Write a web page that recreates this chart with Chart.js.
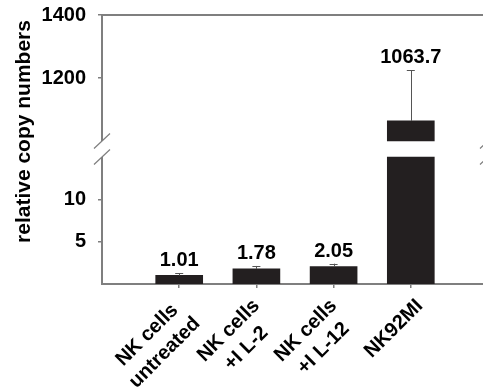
<!DOCTYPE html>
<html><head><meta charset="utf-8">
<script src="https://cdn.jsdelivr.net/npm/chart.js@4/dist/chart.umd.min.js"></script>
<style>
html,body{margin:0;padding:0;overflow:hidden;background:#fff;width:483px;height:389px}
#wrap{position:absolute;left:0;top:0;width:492px;height:389px}
</style>
</head><body><div id="wrap"><canvas id="c" width="492" height="389"></canvas></div>
<script>
// ---- data ----
const categories = [['NK cells','untreated'], ['NK cells','+I L-2'], ['NK cells','+I L-12'], ['NK92MI']];
const values = [1.01, 1.78, 2.05, 1063.7];
const errors = [0.25, 0.35, 0.35, 161];
const valueLabels = ['1.01', '1.78', '2.05', '1063.7'];
const yTickValues = [5, 10, 1200, 1400];
const yTickLabels = ['5', '10', '1200', '1400'];
const yMin = 0, yMax = 1400;
const breakLow = 15, breakHigh = 1000;
const yTitle = 'relative copy numbers';

// ---- styles ----
const FONT = '"Liberation Sans", Arial, sans-serif';
const AXIS = '#7f7f7f';
const BAR = '#231f20';
const ERR = '#555555';

class BrokenLinearScale extends Chart.LinearScale {
  buildTicks() { return yTickValues.map(v => ({ value: v })); }
  _seg() {
    const H = this.bottom - this.top;
    const lowerH = H * this.options.lowerShare;
    const gapH = H * this.options.gapShare;
    return { lowerH, gapH, upperH: H - lowerH - gapH };
  }
  getPixelForValue(v) {
    const { lowerH, gapH, upperH } = this._seg();
    const b = this.options.breakLow, t = this.options.breakHigh;
    if (v <= b) return this.bottom - (v - this.min) / (b - this.min) * lowerH;
    if (v >= t) return this.bottom - lowerH - gapH - (v - t) / (this.max - t) * upperH;
    return this.bottom - lowerH - (v - b) / (t - b) * gapH;
  }
  getValueForPixel(p) {
    const { lowerH, gapH, upperH } = this._seg();
    const b = this.options.breakLow, t = this.options.breakHigh;
    const d = this.bottom - p;
    if (d <= lowerH) return this.min + d / lowerH * (b - this.min);
    if (d >= lowerH + gapH) return t + (d - lowerH - gapH) / upperH * (this.max - t);
    return b + (d - lowerH) / gapH * (t - b);
  }
}
BrokenLinearScale.id = 'brokenLinear';
BrokenLinearScale.defaults = Chart.LinearScale.defaults;
Chart.register(BrokenLinearScale);

const padLabels = ['', ...categories.map(c => c.join(' ')), ''];
const lowerData = [null, ...values.map(v => [yMin, Math.min(v, breakLow)]), null];
const upperData = [null, ...values.map(v => v > breakHigh ? [breakHigh, v] : null), null];

const decorPlugin = {
  id: 'decor',
  afterDatasetsDraw(chart) {
    const { ctx, chartArea: ca } = chart;
    const xs = chart.scales.x, ys = chart.scales.y;
    ctx.save();
    // error bars
    ctx.strokeStyle = ERR; ctx.lineWidth = 1;
    values.forEach((v, i) => {
      const x = xs.getPixelForValue(i + 1);
      const y0 = ys.getPixelForValue(v);
      const y1 = ys.getPixelForValue(v + errors[i]);
      ctx.beginPath();
      ctx.moveTo(Math.round(x) + 0.5, y0); ctx.lineTo(Math.round(x) + 0.5, y1);
      ctx.moveTo(x - 4, Math.round(y1) + 0.5); ctx.lineTo(x + 4, Math.round(y1) + 0.5);
      ctx.stroke();
    });
    // frame: top line, broken left axis, break marks
    const yb = ys.getPixelForValue(breakLow), yt = ys.getPixelForValue(breakHigh);
    ctx.strokeStyle = AXIS; ctx.lineWidth = 2;
    ctx.beginPath();
    ctx.moveTo(ca.left - 1, ca.top); ctx.lineTo(ca.right, ca.top);
    ctx.moveTo(ca.left, ca.top); ctx.lineTo(ca.left, yt);
    ctx.moveTo(ca.left, yb); ctx.lineTo(ca.left, ca.bottom);
    ctx.stroke();
    ctx.lineWidth = 1.2;
    ctx.beginPath();
    [ca.left, ca.right].forEach(x => {
      [yt, yb].forEach(y => {
        ctx.moveTo(x - 8, y + 7.5); ctx.lineTo(x + 8, y - 7.5);
      });
    });
    ctx.stroke();
    // value labels
    ctx.fillStyle = '#000';
    ctx.font = 'bold 20px ' + FONT;
    ctx.textAlign = 'center'; ctx.textBaseline = 'alphabetic';
    values.forEach((v, i) => {
      const x = xs.getPixelForValue(i + 1);
      const y1 = ys.getPixelForValue(v + errors[i]);
      ctx.fillText(valueLabels[i], x, y1 - 7);
    });
    // category labels (rotated, centred lines)
    ctx.font = 'bold 20px ' + FONT;
    const lh = 25;
    categories.forEach((lines, i) => {
      const tx = xs.getPixelForValue(i + 1);
      const bh = lines.length * lh;
      const wmax = Math.max(...lines.map(l => ctx.measureText(l).width));
      ctx.save();
      ctx.translate(tx + 9, ca.bottom + 10 + 0.707 * bh / 2);
      ctx.rotate(-Math.PI / 4);
      ctx.textAlign = 'center'; ctx.textBaseline = 'middle';
      lines.forEach((l, j) => ctx.fillText(l, -wmax / 2, -bh / 2 + lh * (j + 0.5)));
      ctx.restore();
    });
    // y title
    ctx.save();
    ctx.font = 'bold 21px ' + FONT;
    ctx.translate(24, 131.5);
    ctx.rotate(-Math.PI / 2);
    ctx.textAlign = 'center'; ctx.textBaseline = 'middle';
    ctx.fillText(yTitle, 0, 0);
    ctx.restore();
    ctx.restore();
  }
};

new Chart(document.getElementById('c'), {
  type: 'bar',
  data: {
    labels: padLabels,
    datasets: [
      { data: lowerData, backgroundColor: BAR, borderWidth: 0 },
      { data: upperData, backgroundColor: BAR, borderWidth: 0 }
    ]
  },
  options: {
    responsive: false,
    animation: false,
    devicePixelRatio: 1,
    events: [],
    layout: { padding: { top: 15, left: 0, right: 4, bottom: 0 } },
    datasets: { bar: { grouped: false, barThickness: 47 } },
    plugins: { legend: { display: false }, tooltip: { enabled: false } },
    scales: {
      x: {
        type: 'category',
        offset: false,
        grid: {
          offset: false, drawOnChartArea: false, drawTicks: true, tickLength: 4, lineWidth: 1.5,
          color: c => (c.index === 0 || c.index === padLabels.length - 1) ? 'rgba(0,0,0,0)' : AXIS
        },
        border: { display: true, color: AXIS, width: 2 },
        ticks: { display: false },
        afterFit: s => { s.height = 105; s.paddingLeft = 0; s.paddingRight = 0; }
      },
      y: {
        type: 'brokenLinear',
        min: yMin, max: yMax,
        breakLow: breakLow, breakHigh: breakHigh,
        lowerShare: 127 / 269, gapShare: 16 / 269,
        grid: { drawOnChartArea: false, drawTicks: true, tickLength: 4, lineWidth: 1.5, color: AXIS },
        border: { display: false },
        ticks: {
          autoSkip: false, padding: 12, color: '#000',
          font: { family: FONT, size: 20, weight: 'bold' },
          callback: (v, i) => yTickLabels[i]
        },
        afterFit: s => { s.width = 102; s.paddingTop = 0; s.paddingBottom = 0; }
      }
    }
  },
  plugins: [decorPlugin]
});
</script>
</body></html>
